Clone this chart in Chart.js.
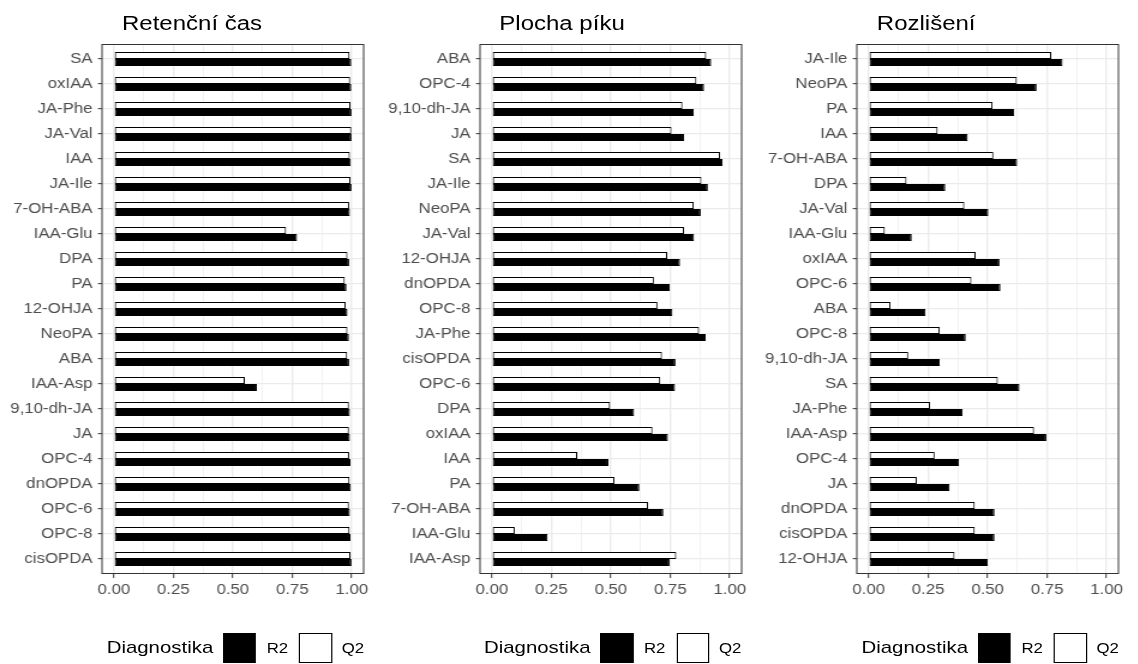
<!DOCTYPE html>
<html>
<head>
<meta charset="utf-8">
<script src="https://cdn.jsdelivr.net/npm/chart.js@4.4.1/dist/chart.umd.min.js"></script>
<style>
  html, body { margin: 0; padding: 0; background: #ffffff; }
  body { width: 1138px; height: 664px; overflow: hidden; position: relative; }
  #page {
    position: absolute; left: 0; top: 0;
    width: 948.333px; height: 664px;
    transform: scaleX(1.2); transform-origin: 0 0;
    font-family: 'Liberation Sans', Arial, sans-serif;
  }
  .title { position: absolute; top: 13px; font-size: 20px; line-height: 20px; color: #000; white-space: nowrap; }
  .panel { position: absolute; top: 0; }
  .legend { position: absolute; top: 633px; height: 30px; }
  .legend span { position: absolute; top: 0; height: 30px; line-height: 30px; white-space: nowrap; color: #000; }
  .legend .ltitle { font-size: 17px; }
  .legend .ltext { font-size: 14px; }
  .legend .key { position: absolute; top: 0; width: 27.2px; height: 30px; box-sizing: border-box; border: 1px solid #000; }
</style>
</head>
<body>
<div id="page"></div>
<script>
// Diagnostics of the models: R2 and Q2 for each compound, three criteria.
const seriesNames = ['R2', 'Q2'];
const legendTitle = 'Diagnostika';
const panelTitles = ['Retenční čas', 'Plocha píku', 'Rozlišení'];
const xTickLabels = ['0.00', '0.25', '0.50', '0.75', '1.00'];

// Retention time
const retentionCats = ['SA', 'oxIAA', 'JA-Phe', 'JA-Val', 'IAA', 'JA-Ile', '7-OH-ABA', 'IAA-Glu', 'DPA', 'PA', '12-OHJA',
  'NeoPA', 'ABA', 'IAA-Asp', '9,10-dh-JA', 'JA', 'OPC-4', 'dnOPDA', 'OPC-6', 'OPC-8', 'cisOPDA'];
const retentionR2 = [0.998, 0.998, 0.999, 0.999, 0.996, 0.999, 0.992, 0.770, 0.989, 0.978, 0.982,
  0.988, 0.989, 0.601, 0.992, 0.992, 0.995, 0.996, 0.992, 0.995, 0.999];
const retentionQ2 = [0.991, 0.993, 0.995, 0.998, 0.992, 0.995, 0.989, 0.724, 0.982, 0.971, 0.975,
  0.982, 0.981, 0.551, 0.988, 0.988, 0.989, 0.991, 0.988, 0.991, 0.995];

// Peak area
const peakCats = ['ABA', 'OPC-4', '9,10-dh-JA', 'JA', 'SA', 'JA-Ile', 'NeoPA', 'JA-Val', '12-OHJA', 'dnOPDA', 'OPC-8',
  'JA-Phe', 'cisOPDA', 'OPC-6', 'DPA', 'oxIAA', 'IAA', 'PA', '7-OH-ABA', 'IAA-Glu', 'IAA-Asp'];
const peakR2 = [0.922, 0.892, 0.849, 0.808, 0.970, 0.908, 0.878, 0.850, 0.791, 0.748, 0.759,
  0.899, 0.772, 0.770, 0.598, 0.740, 0.490, 0.620, 0.721, 0.234, 0.747];
const peakQ2 = [0.901, 0.860, 0.801, 0.755, 0.959, 0.881, 0.849, 0.808, 0.737, 0.681, 0.696,
  0.871, 0.715, 0.708, 0.497, 0.675, 0.359, 0.515, 0.657, 0.096, 0.775];

// Resolution
const resolutionCats = ['JA-Ile', 'NeoPA', 'PA', 'IAA', '7-OH-ABA', 'DPA', 'JA-Val', 'IAA-Glu', 'oxIAA', 'OPC-6', 'ABA',
  'OPC-8', '9,10-dh-JA', 'SA', 'JA-Phe', 'IAA-Asp', 'OPC-4', 'JA', 'dnOPDA', 'cisOPDA', '12-OHJA'];
const resolutionR2 = [0.815, 0.706, 0.612, 0.416, 0.624, 0.322, 0.503, 0.181, 0.550, 0.554, 0.239,
  0.408, 0.299, 0.634, 0.395, 0.747, 0.380, 0.340, 0.529, 0.529, 0.501];
const resolutionQ2 = [0.768, 0.623, 0.521, 0.290, 0.524, 0.159, 0.402, 0.068, 0.450, 0.432, 0.092,
  0.299, 0.166, 0.543, 0.258, 0.695, 0.277, 0.202, 0.446, 0.446, 0.361];

const panels = [
  { title: panelTitles[0], cats: retentionCats, r2: retentionR2, q2: retentionQ2 },
  { title: panelTitles[1], cats: peakCats, r2: peakR2, q2: peakQ2 },
  { title: panelTitles[2], cats: resolutionCats, r2: resolutionR2, q2: resolutionQ2 }
];

// layout (in the un-stretched page coordinates)
const frameLefts = [85.3, 399.7, 714.3];
const frameWidth = 220;
const yAxisWidth = 85;
const rightPad = 6;
const frameTop = 44;
const frameBottom = 574;   // 21.2 category units of 25 px
const canvasHeight = 610;

const xTickValues = [0, 0.125, 0.25, 0.375, 0.5, 0.625, 0.75, 0.875, 1];
const isMajor = v => Math.round(v * 8) % 2 === 0;

// full panel border drawn over the bars
const panelBorder = {
  id: 'panelBorder',
  afterDatasetsDraw(chart) {
    const { ctx, chartArea: a } = chart;
    ctx.save();
    ctx.strokeStyle = '#333333';
    ctx.lineWidth = 1;
    ctx.strokeRect(a.left, a.top + 0.5, a.right - a.left, a.bottom - a.top - 1);
    ctx.restore();
  }
};

const page = document.getElementById('page');

panels.forEach((p, k) => {
  const left = frameLefts[k];

  const title = document.createElement('div');
  title.className = 'title';
  title.style.left = (left + 16.4) + 'px';
  title.textContent = p.title;
  page.appendChild(title);

  const cw = yAxisWidth + frameWidth + rightPad;
  const canvas = document.createElement('canvas');
  canvas.className = 'panel';
  canvas.width = cw;
  canvas.height = canvasHeight;
  canvas.style.width = cw + 'px';
  canvas.style.height = canvasHeight + 'px';
  canvas.style.left = (left - yAxisWidth) + 'px';
  page.appendChild(canvas);

  new Chart(canvas, {
    type: 'bar',
    data: {
      datasets: [
        {
          label: seriesNames[1],
          data: p.cats.map((c, i) => ({ y: i, x: p.q2[i] })),
          backgroundColor: '#ffffff',
          borderColor: '#000000',
          borderWidth: 1.1,
          borderSkipped: false
        },
        {
          label: seriesNames[0],
          data: p.cats.map((c, i) => ({ y: i, x: p.r2[i] })),
          backgroundColor: '#000000',
          borderColor: '#000000',
          borderWidth: 1.1,
          borderSkipped: false
        }
      ]
    },
    options: {
      indexAxis: 'y',
      responsive: false,
      maintainAspectRatio: false,
      animation: false,
      devicePixelRatio: 1,
      categoryPercentage: 0.56,
      barPercentage: 1.0,
      layout: { padding: { top: frameTop, right: rightPad, left: 0, bottom: 0 } },
      plugins: { legend: { display: false }, tooltip: { enabled: false }, title: { display: false } },
      scales: {
        x: {
          type: 'linear',
          min: -0.05,
          max: 1.05,
          afterBuildTicks: s => { s.ticks = xTickValues.map(v => ({ value: v })); },
          afterFit: s => { s.height = canvasHeight - frameBottom; },
          border: { display: false },
          grid: {
            color: '#ebebeb',
            lineWidth: c => (c.tick && isMajor(c.tick.value) ? 1.4 : 0.7),
            tickColor: c => (c.tick && isMajor(c.tick.value) ? '#333333' : 'rgba(0,0,0,0)'),
            tickWidth: 1,
            tickLength: 4,
            drawOnChartArea: true
          },
          ticks: {
            autoSkip: false,
            maxRotation: 0,
            padding: 4,
            color: '#4d4d4d',
            font: { family: "'Liberation Sans', Arial, sans-serif", size: 14 },
            callback: v => (isMajor(v) ? xTickLabels[Math.round(v * 4)] : '')
          }
        },
        y: {
          type: 'linear',
          reverse: true,
          offset: false,
          min: -0.6,
          max: p.cats.length - 1 + 0.6,
          afterBuildTicks: s => { s.ticks = p.cats.map((c, i) => ({ value: i })); },
          afterFit: s => { s.width = yAxisWidth; },
          border: { display: false },
          grid: {
            offset: false,
            color: '#ebebeb',
            lineWidth: 1.3,
            tickColor: '#333333',
            tickWidth: 1,
            tickLength: 3.4
          },
          ticks: {
            autoSkip: false,
            padding: 4.5,
            color: '#4d4d4d',
            font: { family: "'Liberation Sans', Arial, sans-serif", size: 14 },
            callback: v => p.cats[v]
          }
        }
      }
    },
    plugins: [panelBorder]
  });

  // legend: Diagnostika  ■ R2  □ Q2
  const lg = document.createElement('div');
  lg.className = 'legend';
  lg.style.left = left + 'px';
  const parts = [
    { cls: 'ltitle', text: legendTitle, x: 3.6 },
    { key: '#000000', x: 100.8 },
    { cls: 'ltext', text: seriesNames[0], x: 136.9 },
    { key: '#ffffff', x: 164.1 },
    { cls: 'ltext', text: seriesNames[1], x: 199.4 }
  ];
  parts.forEach(it => {
    if (it.key) {
      const b = document.createElement('div');
      b.className = 'key';
      b.style.left = it.x + 'px';
      b.style.background = it.key;
      lg.appendChild(b);
    } else {
      const s = document.createElement('span');
      s.className = it.cls;
      s.style.left = it.x + 'px';
      s.textContent = it.text;
      lg.appendChild(s);
    }
  });
  page.appendChild(lg);
});
</script>
</body>
</html>
